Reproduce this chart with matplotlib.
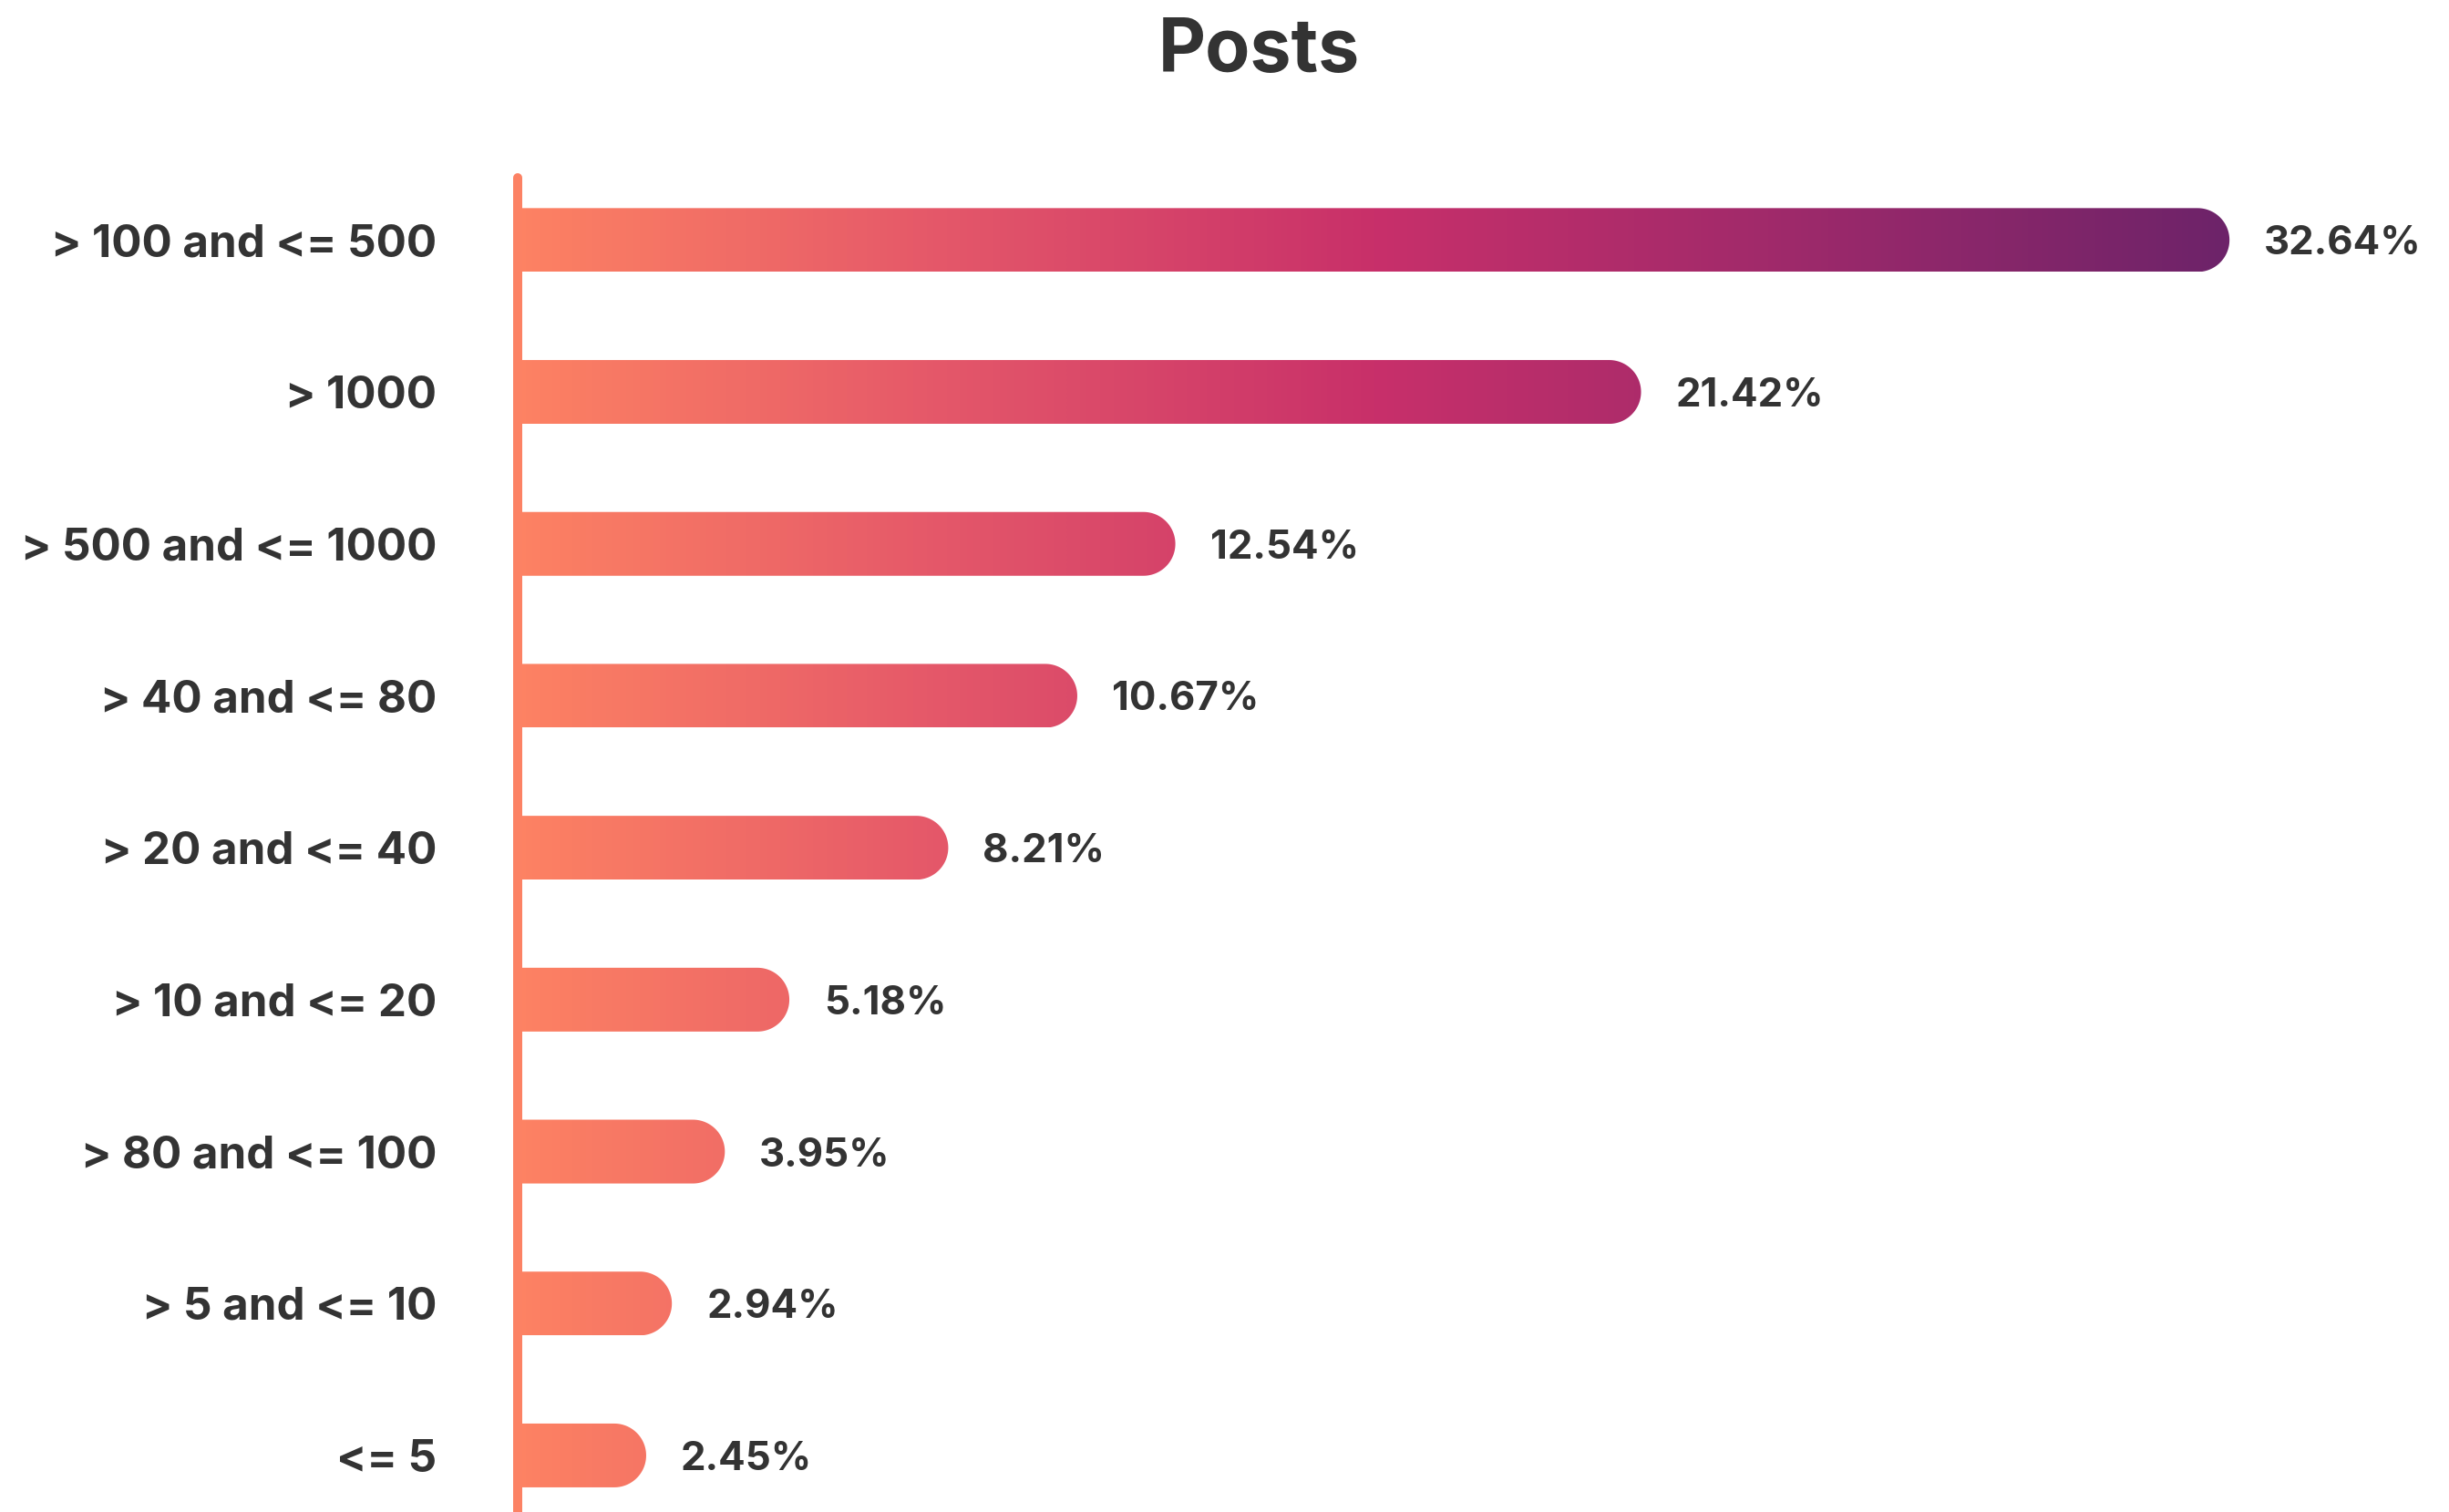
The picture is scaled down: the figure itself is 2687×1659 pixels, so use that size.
import numpy as np
import matplotlib
matplotlib.use('Agg')
import matplotlib.pyplot as plt
from matplotlib.colors import LinearSegmentedColormap
from matplotlib.path import Path
from matplotlib.patches import PathPatch

plt.rcParams['font.family'] = ['Inter', 'DejaVu Sans']

categories = ['> 100 and <= 500', '> 1000', '> 500 and <= 1000', '> 40 and <= 80',
              '> 20 and <= 40', '> 10 and <= 20', '> 80 and <= 100', '> 5 and <= 10', '<= 5']
values = [32.64, 21.42, 12.54, 10.67, 8.21, 5.18, 3.95, 2.94, 2.45]
value_labels = ['32.64%', '21.42%', '12.54%', '10.67%', '8.21%', '5.18%', '3.95%', '2.94%', '2.45%']

W, H, DPI = 2687, 1659, 100
fig = plt.figure(figsize=(W / DPI, H / DPI), dpi=DPI)
fig.patch.set_facecolor('white')

# axes: left edge on the orange axis line, top at the line's top
row_px = 166.7
ax_left, ax_right = 568 / W, 2651 / W
ax = fig.add_axes([ax_left, 0, ax_right - ax_left, (H - 190) / H])
xmax = 36.2
ax.set_xlim(0, xmax)
ax.set_ylim(-0.44 + (H - 190) / row_px, -0.44)
ax.axis('off')

cmap = LinearSegmentedColormap.from_list(
    'posts', [(0, '#FD8263'), (0.23, '#E65A69'), (0.5, '#C8306A'), (0.73, '#A12A6B'), (1, '#6D2369')])
vmax = max(values)
grad = np.linspace(0, 1, 512).reshape(1, -1)

bar_h = 0.42
# pixels per data unit, to make the rounded end a circle
px_x = (ax_right - ax_left) * W / xmax
r_y = bar_h / 2
r_x = r_y * row_px / px_x

for i, v in enumerate(values):
    top, bot = i - r_y, i + r_y
    cx = v - r_x
    t = np.linspace(-np.pi / 2, np.pi / 2, 60)
    verts = [(0, bot), (cx, bot)]
    verts += [(cx + r_x * np.cos(a), i + r_y * np.sin(-a)) for a in t]
    verts += [(0, top), (0, bot)]
    codes = [Path.MOVETO] + [Path.LINETO] * (len(verts) - 2) + [Path.CLOSEPOLY]
    patch = PathPatch(Path(verts, codes), facecolor='none', edgecolor='none')
    ax.add_patch(patch)
    im = ax.imshow(grad, cmap=cmap, aspect='auto', extent=(0, vmax, bot, top),
                   interpolation='bilinear', zorder=2)
    im.set_clip_path(patch)
    ax.text(v + 0.66, i, value_labels[i], ha='left', va='center_baseline',
            fontsize=31.5, fontweight='bold', color='#333333')
    fig.text(479 / W, 1 - (263 + i * row_px) / H, categories[i], ha='right',
             va='center_baseline', fontsize=35.5, fontweight='bold', color='#333333')

ax.plot([0, 0], [-0.41, 9], color='#FC8264', lw=7.2, solid_capstyle='round',
        zorder=3, clip_on=False)

fig.text(1381 / W, 1 - 57 / H, 'Posts', ha='center', va='center',
         fontsize=58, fontweight='bold', color='#333333')

fig.savefig('out.png', dpi=DPI)
